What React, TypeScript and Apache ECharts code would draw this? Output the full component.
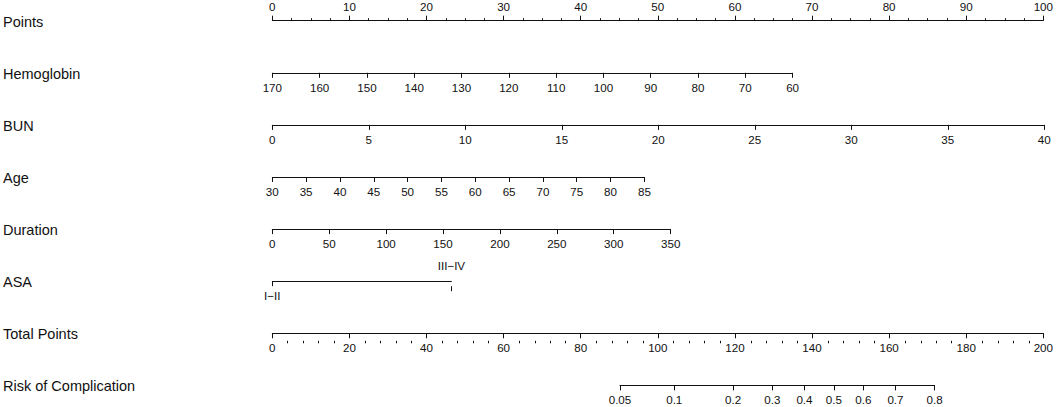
import React, { useEffect, useRef } from "react";
import * as echarts from "echarts";

// ---- Data ----
const rowLabels = [
  "Points",
  "Hemoglobin",
  "BUN",
  "Age",
  "Duration",
  "ASA",
  "Total Points",
  "Risk of Complication",
];

// Points scale
const pointsMin = 0;
const pointsMax = 100;

// Predictor ranges: [value at 0 points, value at max points], plus max points
const hemoglobinRange = [170, 60];
const hemoglobinMaxPoints = 67.4;
const bunRange = [0, 40];
const bunMaxPoints = 100;
const ageRange = [30, 85];
const ageMaxPoints = 48.2;
const durationRange = [0, 350];
const durationMaxPoints = 51.6;
const asaLevels = ["I\u2212II", "III\u2212IV"];
const asaPoints = [0, 23.2];

// Total points scale
const totalMin = 0;
const totalMax = 200;

// Risk (logistic model on total points)
const riskTicks = [0.05, 0.1, 0.2, 0.3, 0.4, 0.5, 0.6, 0.7, 0.8];
const riskIntercept = -7.73;
const riskSlope = 0.05313;

// ---- Layout ----
const FONT = "'Liberation Sans', Arial, Helvetica, sans-serif";
const X0 = 272.3;
const SCALE_W = 772; // pixel width of the full points / total points scale
const ROW0 = 20.7;
const ROW_STEP = 52.1;
const rowY = (i: number) => ROW0 + ROW_STEP * i;

const logit = (p: number) => Math.log(p / (1 - p));
const riskToTotal = (p: number) => (logit(p) - riskIntercept) / riskSlope;

export default function App() {
  const ref = useRef<HTMLDivElement>(null);

  useEffect(() => {
    document.body.style.margin = "0";
    if (!ref.current) return;
    const chart = echarts.init(ref.current, undefined, { renderer: "svg" });

    const lineStyle = { color: "#111", width: 1 };
    const labelBase = { color: "#111", fontSize: 11.6, fontFamily: FONT, hideOverlap: false, showMinLabel: true, showMaxLabel: true };

    const grids: any[] = [];
    const xAxes: any[] = [];
    const yAxes: any[] = [];

    const ptsW = (p: number) => (p / (pointsMax - pointsMin)) * SCALE_W;
    const totW = (t: number) => (t / (totalMax - totalMin)) * SCALE_W;

    function addGrid(left: number, width: number, lineY: number, pos: "top" | "bottom", axis: any) {
      const gi = grids.length;
      grids.push({
        left,
        width,
        top: pos === "bottom" ? lineY - 10 : lineY,
        height: 10,
        containLabel: false,
      });
      yAxes.push({ type: "value", gridIndex: gi, show: false });
      xAxes.push({
        type: "value",
        gridIndex: gi,
        position: pos,
        splitLine: { show: false },
        minorSplitLine: { show: false },
        axisLine: { show: true, lineStyle, onZero: false },
        axisTick: { show: true, length: 5, lineStyle },
        ...axis,
        axisLabel: { ...labelBase, margin: pos === "top" ? 8 : 8.5, ...(axis.axisLabel || {}) },
      });
    }

    // Points
    addGrid(X0, ptsW(pointsMax), rowY(0), "top", {
      min: pointsMin,
      max: pointsMax,
      interval: 10,
      minorTick: { show: true, splitNumber: 4, length: 2.5, lineStyle },
    });
    // Hemoglobin (reversed)
    addGrid(X0, ptsW(hemoglobinMaxPoints), rowY(1), "bottom", {
      min: Math.min(...hemoglobinRange),
      max: Math.max(...hemoglobinRange),
      interval: 10,
      inverse: true,
    });
    // BUN
    addGrid(X0, ptsW(bunMaxPoints), rowY(2), "bottom", {
      min: bunRange[0],
      max: bunRange[1],
      interval: 5,
    });
    // Age
    addGrid(X0, ptsW(ageMaxPoints), rowY(3), "bottom", {
      min: ageRange[0],
      max: ageRange[1],
      interval: 5,
    });
    // Duration
    addGrid(X0, ptsW(durationMaxPoints), rowY(4), "bottom", {
      min: durationRange[0],
      max: durationRange[1],
      interval: 50,
    });
    // ASA: low level below, high level above
    const asaW = ptsW(asaPoints[1] - asaPoints[0]);
    const asaFmt = (v: number) => {
      let best = 0;
      asaPoints.forEach((p, i) => {
        if (Math.abs(p - v) < Math.abs(asaPoints[best] - v)) best = i;
      });
      return asaLevels[best];
    };
    addGrid(X0 + ptsW(asaPoints[0]), asaW, rowY(5), "bottom", {
      min: asaPoints[0],
      max: asaPoints[1],
      axisTick: { show: true, length: 5, lineStyle, customValues: [asaPoints[0]] },
      axisLabel: { customValues: [asaPoints[0]], formatter: asaFmt },
    });
    addGrid(X0 + ptsW(asaPoints[0]), asaW, rowY(5), "top", {
      min: asaPoints[0],
      max: asaPoints[1],
      axisLine: { show: false },
      axisTick: { show: true, length: 5, lineStyle, customValues: [asaPoints[1]] },
      axisLabel: { customValues: [asaPoints[1]], formatter: asaFmt, margin: 9.5 },
    });
    // Total points (major ticks down, minor ticks up)
    addGrid(X0, totW(totalMax), rowY(6), "bottom", {
      min: totalMin,
      max: totalMax,
      interval: 20,
    });
    addGrid(X0, totW(totalMax), rowY(6), "top", {
      min: totalMin,
      max: totalMax,
      interval: 20,
      axisLine: { show: false },
      axisTick: { show: false },
      axisLabel: { show: false },
      minorTick: { show: true, splitNumber: 5, length: 2.5, lineStyle },
    });
    // Risk
    const rMin = riskToTotal(riskTicks[0]);
    const rMax = riskToTotal(riskTicks[riskTicks.length - 1]);
    const riskVals = riskTicks.map(riskToTotal);
    addGrid(X0 + totW(rMin), totW(rMax - rMin), rowY(7), "bottom", {
      min: rMin,
      max: rMax,
      axisTick: { show: true, length: 5, lineStyle, customValues: riskVals },
      axisLabel: {
        customValues: riskVals,
        formatter: (v: number) => {
          let best = 0;
          riskVals.forEach((rv, i) => {
            if (Math.abs(rv - v) < Math.abs(riskVals[best] - v)) best = i;
          });
          return String(riskTicks[best]);
        },
      },
    });

    const graphics = rowLabels.map((t, i) => ({
      type: "text",
      x: 3,
      y: rowY(i) + 0.8,
      style: {
        text: t,
        fontSize: 14.5,
        fontFamily: FONT,
        fill: "#111",
        verticalAlign: "middle",
        align: "left",
      },
    }));

    chart.setOption({
      animation: false,
      backgroundColor: "#fff",
      grid: grids,
      xAxis: xAxes,
      yAxis: yAxes,
      graphic: graphics,
      series: [],
    });

    return () => chart.dispose();
  }, []);

  return <div ref={ref} style={{ width: 1056, height: 407 }} />;
}
